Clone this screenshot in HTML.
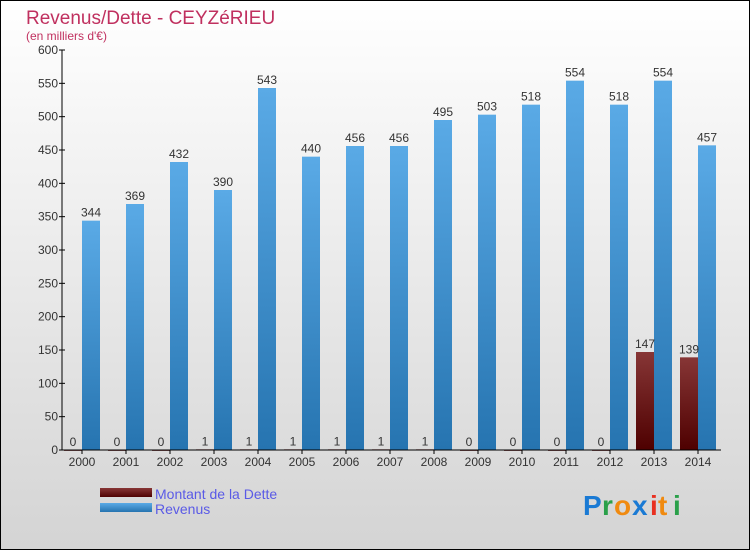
<!DOCTYPE html>
<html><head><meta charset="utf-8"><style>
html,body{margin:0;padding:0}
body{width:750px;height:550px;overflow:hidden;font-family:"Liberation Sans",sans-serif}
</style></head><body>
<svg id="chart" width="750" height="550" xmlns="http://www.w3.org/2000/svg">
<defs>
<linearGradient id="bg" x1="0" y1="0" x2="0" y2="1"><stop offset="0" stop-color="#ffffff"/><stop offset="1" stop-color="#d4d4d4"/></linearGradient>
<linearGradient id="blue" x1="0" y1="0" x2="0" y2="1"><stop offset="0" stop-color="#5aaae6"/><stop offset="1" stop-color="#2674b0"/></linearGradient>
<linearGradient id="red" x1="0" y1="0" x2="0" y2="1"><stop offset="0" stop-color="#873636"/><stop offset="1" stop-color="#4e0000"/></linearGradient>
</defs>
<rect x="0.5" y="0.5" width="749" height="549" fill="url(#bg)" stroke="#000"/>
<text x="26" y="24" font-size="19" fill="#c0305f">Revenus/Dette - CEYZéRIEU</text>
<text x="26" y="40" font-size="12" fill="#c0305f">(en milliers d'€)</text>
<g id="yaxis"></g>
<g id="bars"></g>
<g id="xaxis"></g>
<g>
<rect x="100" y="488" width="52" height="9" fill="url(#red)"/>
<text x="155" y="499" font-size="14" fill="#5a5ae6">Montant de la Dette</text>
<rect x="100" y="503" width="52" height="9" fill="url(#blue)"/>
<text x="155" y="514" font-size="14" fill="#5a5ae6">Revenus</text>
</g>
<g font-size="28" font-weight="bold">
<text x="583" y="515" fill="#1a7ad4">P</text><text x="602" y="515" fill="#2aa04a">r</text><text x="614" y="515" fill="#f08a10">o</text><text x="632" y="515" fill="#1a7ad4">x</text><text x="650" y="515" fill="#e83020">i</text><text x="658" y="515" fill="#f08a10">t</text><text x="673" y="515" fill="#2aa04a">i</text>
</g>
</svg>
<script>
const years=["2000","2001","2002","2003","2004","2005","2006","2007","2008","2009","2010","2011","2012","2013","2014"];
const debt=[0,0,0,1,1,1,1,1,1,0,0,0,0,147,139];
const revenue=[344,369,432,390,543,440,456,456,495,503,518,554,518,554,457];
const yTicks=[0,50,100,150,200,250,300,350,400,450,500,550,600];
const NS="http://www.w3.org/2000/svg";
const x0=62,x1=721,y0=450,y1=50,yMax=600;
const step=44,firstCenter=82,bw=18;
const yS=v=>y0-(v/yMax)*(y0-y1);
const xC=i=>firstCenter+i*step;
function mk(tag,attrs,parent,txt){const e=document.createElementNS(NS,tag);for(const k in attrs)e.setAttribute(k,attrs[k]);if(txt!==undefined)e.textContent=txt;parent.appendChild(e);return e;}
const ya=document.getElementById('yaxis'),xa=document.getElementById('xaxis'),bg=document.getElementById('bars');
let l=mk('line',{x1:x0,y1:y1,x2:x0,y2:y0,stroke:'#000'},ya);


yTicks.forEach(t=>{
 const y=yS(t);
 const tk=mk('line',{x1:x0-3,y1:y,x2:x0+3,y2:y,stroke:'#000'},ya);
 
 
 const tx=mk('text',{x:x0-4,y:y+4,'font-size':12,fill:'#333','text-anchor':'end'},ya,String(t));
 
 
});
years.forEach((yr,i)=>{
 const c=xC(i);
 const dh=y0-yS(debt[i]);
 const d=mk('rect',{x:c-bw,y:yS(debt[i]),width:bw,height:Math.max(dh,debt[i]>0?1:0.8),fill:'url(#red)'},bg);
 
 
 const r=mk('rect',{x:c,y:yS(revenue[i]),width:bw,height:y0-yS(revenue[i]),fill:'url(#blue)'},bg);
 
 
 const dl=mk('text',{x:c-bw/2,y:yS(debt[i])-4,'font-size':12,fill:'#333','text-anchor':'middle'},bg,String(debt[i]));
 
 
 const rl=mk('text',{x:c+bw/2,y:yS(revenue[i])-4,'font-size':12,fill:'#333','text-anchor':'middle'},bg,String(revenue[i]));
 
 
 const tk=mk('line',{x1:c,y1:y0,x2:c,y2:y0+4,stroke:'#000'},xa);
 
 
 const xl=mk('text',{x:c,y:y0+16,'font-size':12,fill:'#333','text-anchor':'middle'},xa,yr);
 
 
});
const xl=mk('line',{x1:x0,y1:y0,x2:x1,y2:y0,stroke:'#000'},xa);


</script>
</body></html>
